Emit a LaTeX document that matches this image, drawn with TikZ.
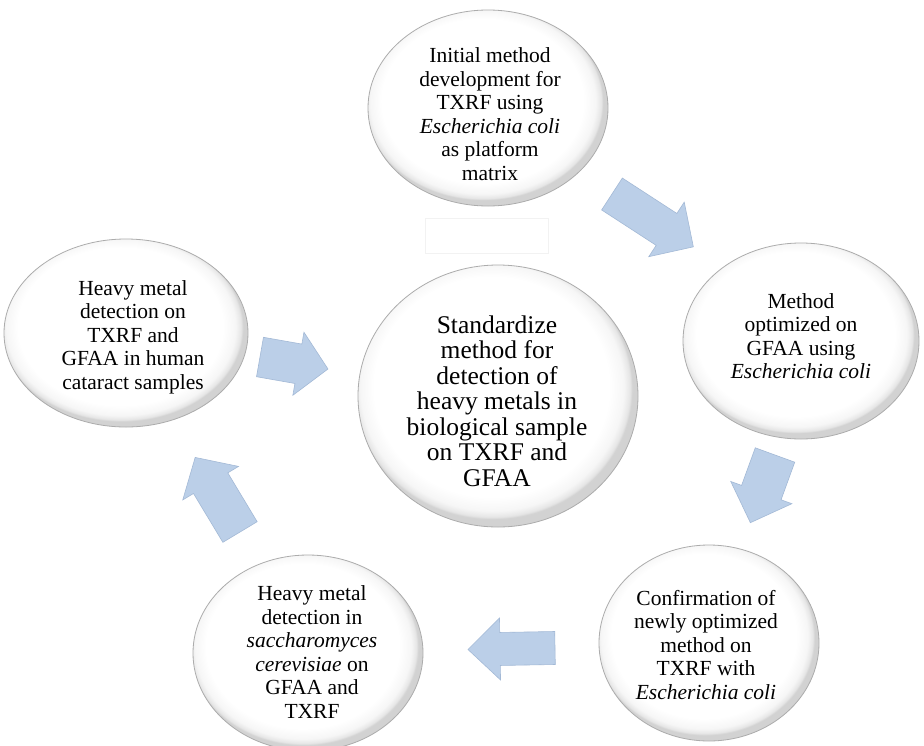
\documentclass[tikz,border=0pt]{standalone}
\usepackage{fontspec}
\setmainfont{Liberation Serif}
\usetikzlibrary{shapes.geometric}
\definecolor{arrowfill}{HTML}{BBCFE8}
\definecolor{arrowline}{HTML}{A3B9D6}
\pgfdeclareradialshading{bubbleshade}{\pgfpoint{-2bp}{3bp}}{%
  color(0bp)=(white); color(21bp)=(white); color(23.5bp)=(gray!7);
  color(24.6bp)=(gray!20); color(25bp)=(gray!35); color(50bp)=(gray!35)}
\tikzset{
  bubble/.style={ellipse, draw=gray!65, line width=0.8pt, shade, shading=bubbleshade, inner sep=0pt},
  btext/.style={align=center, font=\fontsize{21.5}{23.5}\selectfont, inner sep=0pt},
  ctext/.style={align=center, font=\fontsize{25.5}{25.5}\selectfont, inner sep=0pt},
  blockarrowstyle/.style={fill=arrowfill, draw=arrowline, line width=0.6pt, line join=miter}
}
\newcommand\blockarrow[8]{% name, x, y, angle, length, shaft, head width, head length
  \begin{scope}[shift={(#2,#3)}, rotate=#4]
    \coordinate (#1) at (0,0);
    \draw[blockarrowstyle] (0,{#6/2}) -- ({#5-#8},{#6/2}) -- ({#5-#8},{#7/2}) -- (#5,0)
      -- ({#5-#8},{-#7/2}) -- ({#5-#8},{-#6/2}) -- (0,{-#6/2}) -- cycle;
  \end{scope}}
\begin{document}
\begin{tikzpicture}[x=1pt,y=-1pt]
\useasboundingbox (0,0) rectangle (924,745);
\fill[white] (0,0) rectangle (924,745);

% faint rectangle
\draw[gray!10, line width=0.6pt] (425,218) rectangle (548,253);

% ellipses
\node[bubble, minimum width=240pt, minimum height=196pt] (topB) at (488,108) {};
\node[bubble, minimum width=236pt, minimum height=196pt] (rightB) at (801,341) {};
\node[bubble, minimum width=220pt, minimum height=196pt] (brB) at (709,643) {};
\node[bubble, minimum width=230pt, minimum height=196pt] (blB) at (308,653) {};
\node[bubble, minimum width=244pt, minimum height=188pt] (leftB) at (126,333) {};
\node[bubble, minimum width=280pt, minimum height=262pt] (centerB) at (498,396) {};

% texts
\node[btext] (topT) at (490,114) {Initial method\\development for\\TXRF using\\\textit{Escherichia coli}\\as platform\\matrix};
\node[btext] (rightT) at (801,336) {Method\\optimized on\\GFAA using\\\textit{Escherichia coli}};
\node[btext] (brT) at (706,645) {Confirmation of\\newly optimized\\method on\\TXRF with\\\textit{Escherichia coli}};
\node[btext] (blT) at (312,652) {Heavy metal\\detection in\\\textit{saccharomyces}\\\textit{cerevisiae} on\\GFAA and\\TXRF};
\node[btext] (leftT) at (133,337) {Heavy metal\\detection on\\TXRF and\\GFAA in human\\cataract samples};
\node[ctext] (centerT) at (497,401) {Standardize\\method for\\detection of\\heavy metals in\\biological sample\\on TXRF and\\GFAA};

% block arrows
\blockarrow{a1}{612}{194}{-33}{97}{38}{65}{32}
\blockarrow{a2}{775}{455}{-110}{72}{42}{65}{32}
\blockarrow{a3}{555}{648}{181}{87}{33}{62}{32}
\blockarrow{a4}{240}{532}{121}{87}{40}{65}{30}
\blockarrow{a5}{260}{357}{-10}{69}{40}{64}{30}
\end{tikzpicture}
\end{document}
